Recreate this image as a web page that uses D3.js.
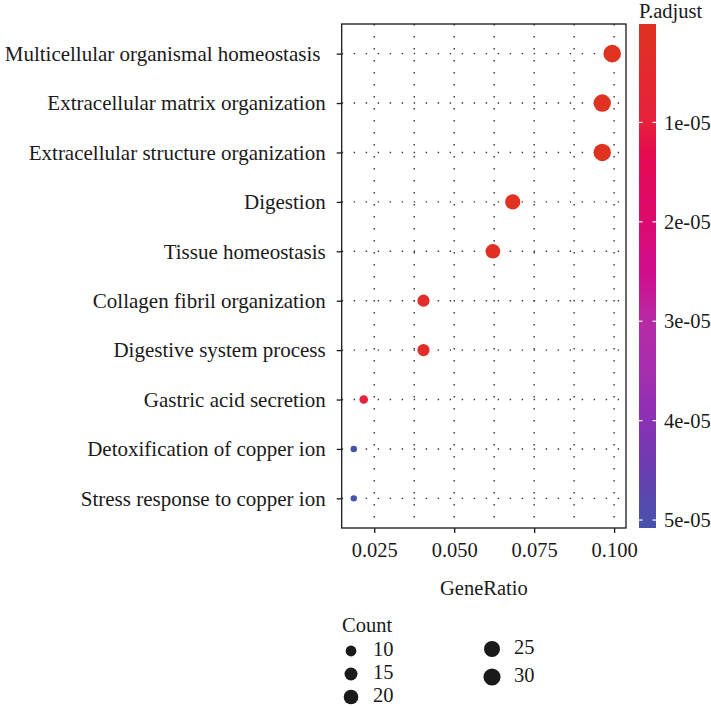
<!DOCTYPE html>
<html>
<head>
<meta charset="utf-8">
<script src="https://cdn.jsdelivr.net/npm/d3@7"></script>
<style>
  body { margin: 0; background: #fff; }
  svg text { font-family: "Liberation Serif", "Times New Roman", serif; fill: #1a1a1a; }
</style>
</head>
<body>
<div id="chart"></div>
<script>
// GO terms, top to bottom
const terms = [
  'Multicellular organismal homeostasis ',
  'Extracellular matrix organization',
  'Extracellular structure organization',
  'Digestion',
  'Tissue homeostasis',
  'Collagen fibril organization',
  'Digestive system process',
  'Gastric acid secretion',
  'Detoxification of copper ion',
  'Stress response to copper ion'
];
const counts = [32, 31, 31, 22, 20, 13, 13, 7, 6, 6];
const geneRatio = [0.0994, 0.0963, 0.0963, 0.0683, 0.0621, 0.0404, 0.0404, 0.0217, 0.0186, 0.0186];
const pAdjust = [1.0e-7, 2.0e-7, 2.5e-7, 4.0e-7, 1.2e-6, 3.2e-6, 3.2e-6, 1.0e-5, 5.08e-5, 5.08e-5];

const xTicks = [0.025, 0.050, 0.075, 0.100];
const xMinor = [0.0375, 0.0625, 0.0875];
const pTicks = [1e-5, 2e-5, 3e-5, 4e-5, 5e-5];
const pTickLabels = ['1e-05', '2e-05', '3e-05', '4e-05', '5e-05'];
const sizeBreaks = [10, 15, 20, 25, 30];

// colour ramp of the P.adjust bar
const pStops = [1.0e-7, 1.0e-5, 1.3e-5, 2.0e-5, 2.5e-5, 3.0e-5, 3.5e-5, 4.0e-5, 4.5e-5, 5.08e-5];
const pColors = ['#e03220', '#e6213c', '#e50a50', '#dd0a70', '#d00c8e', '#b82aa5', '#a52eb0', '#8a30b4', '#6a3eb0', '#4752ab'];

const data = terms.map((t, i) => ({term: t, count: counts[i], ratio: geneRatio[i], p: pAdjust[i]}));

const W = 711, H = 707;
const FS = 20.5;
const panel = {left: 341.7, right: 626, top: 24, bottom: 528};

const svg = d3.select('#chart').append('svg')
  .attr('width', W)
  .attr('height', H);

const x = d3.scaleLinear()
  .domain([0.01482, 0.10372])
  .range([panel.left, panel.right]);

const y = d3.scalePoint()
  .domain(terms)
  .range([panel.top, panel.bottom])
  .padding(0.6);

const color = d3.scaleLinear()
  .domain(pStops)
  .range(pColors)
  .interpolate(d3.interpolateRgb)
  .clamp(true);

// ggplot-like area size: radius grows with sqrt of rescaled count
const cMin = d3.min(counts), cMax = d3.max(counts);
const rScale = d3.scaleLinear().domain([0, 1]).range([3.2, 8.8]);
const radius = c => rScale(Math.sqrt((c - cMin) / (cMax - cMin)));

// grid lines (dotted)
const grid = svg.append('g');
grid.selectAll('.vgrid')
  .data(xTicks.concat(xMinor))
  .join('line')
  .attr('x1', d => x(d)).attr('x2', d => x(d))
  .attr('y1', panel.top).attr('y2', panel.bottom)
  .attr('stroke', '#333')
  .attr('stroke-width', 1.4)
  .attr('stroke-dasharray', '1.4,10.6');

grid.selectAll('.hgrid')
  .data(terms)
  .join('line')
  .attr('x1', panel.left).attr('x2', panel.right)
  .attr('y1', d => y(d)).attr('y2', d => y(d))
  .attr('stroke', '#333')
  .attr('stroke-width', 1.4)
  .attr('stroke-dasharray', '1.4,10.6');

// points
svg.append('g').selectAll('circle')
  .data(data)
  .join('circle')
  .attr('cx', d => x(d.ratio))
  .attr('cy', d => y(d.term))
  .attr('r', d => radius(d.count))
  .attr('fill', d => color(d.p));

// panel border
svg.append('rect')
  .attr('x', panel.left).attr('y', panel.top)
  .attr('width', panel.right - panel.left)
  .attr('height', panel.bottom - panel.top)
  .attr('fill', 'none')
  .attr('stroke', '#1a1a1a')
  .attr('stroke-width', 1.3);

// axes
const xAxis = svg.append('g')
  .attr('transform', 'translate(0,' + panel.bottom + ')')
  .call(d3.axisBottom(x).tickValues(xTicks).tickFormat(d3.format('.3f')).tickSize(5).tickPadding(9));
xAxis.select('.domain').remove();
xAxis.selectAll('line').attr('stroke', '#1a1a1a').attr('stroke-width', 1.3);
xAxis.selectAll('text').attr('font-size', FS).attr('fill', '#1a1a1a');

const yAxis = svg.append('g')
  .attr('transform', 'translate(' + panel.left + ',0)')
  .call(d3.axisLeft(y).tickSize(5).tickPadding(11));
yAxis.select('.domain').remove();
yAxis.selectAll('line').attr('stroke', '#1a1a1a').attr('stroke-width', 1.3);
yAxis.selectAll('text')
  .attr('font-size', 21)
  .attr('fill', '#1a1a1a')
  .style('white-space', 'pre');

svg.append('text')
  .attr('x', (panel.left + panel.right) / 2)
  .attr('y', 595)
  .attr('text-anchor', 'middle')
  .attr('font-size', FS)
  .text('GeneRatio');

// colour bar
const bar = {x: 639, w: 17, top: panel.top, bottom: panel.bottom};
const pScale = d3.scaleLinear()
  .domain([d3.min(pAdjust), d3.max(pAdjust)])
  .range([bar.top, bar.bottom]);

const grad = svg.append('defs').append('linearGradient')
  .attr('id', 'pgrad')
  .attr('x1', 0).attr('x2', 0).attr('y1', 0).attr('y2', 1);
grad.selectAll('stop')
  .data(d3.range(0, 1.0001, 0.02))
  .join('stop')
  .attr('offset', d => d)
  .attr('stop-color', d => color(pScale.invert(bar.top + d * (bar.bottom - bar.top))));

svg.append('rect')
  .attr('x', bar.x).attr('y', bar.top)
  .attr('width', bar.w).attr('height', bar.bottom - bar.top)
  .attr('fill', 'url(#pgrad)');

const pt = svg.append('g');
pt.selectAll('.tl')
  .data(pTicks)
  .join('line')
  .attr('x1', bar.x).attr('x2', bar.x + 3.5)
  .attr('y1', d => pScale(d)).attr('y2', d => pScale(d))
  .attr('stroke', '#fff').attr('stroke-width', 1.2);
pt.selectAll('.tr')
  .data(pTicks)
  .join('line')
  .attr('x1', bar.x + bar.w - 3.5).attr('x2', bar.x + bar.w)
  .attr('y1', d => pScale(d)).attr('y2', d => pScale(d))
  .attr('stroke', '#fff').attr('stroke-width', 1.2);
pt.selectAll('text')
  .data(pTicks)
  .join('text')
  .attr('x', 664)
  .attr('y', d => pScale(d))
  .attr('dy', '0.35em')
  .attr('font-size', FS)
  .text((d, i) => pTickLabels[i]);

svg.append('text')
  .attr('x', 639).attr('y', 18)
  .attr('font-size', FS)
  .text('P.adjust');

// size legend
const legend = svg.append('g');
legend.append('text')
  .attr('x', 342).attr('y', 632)
  .attr('font-size', FS)
  .text('Count');

const keyPos = [
  {cx: 351, cy: 651}, {cx: 351, cy: 674}, {cx: 351, cy: 697},
  {cx: 492, cy: 649}, {cx: 492, cy: 677}
];
const keys = legend.selectAll('.key')
  .data(sizeBreaks)
  .join('g')
  .attr('transform', (d, i) => 'translate(' + keyPos[i].cx + ',' + keyPos[i].cy + ')');
keys.append('circle')
  .attr('r', d => radius(d))
  .attr('fill', '#1a1a1a');
keys.append('text')
  .attr('x', 22)
  .attr('dy', '0.25em')
  .attr('font-size', FS)
  .text(d => d);
</script>
</body>
</html>
